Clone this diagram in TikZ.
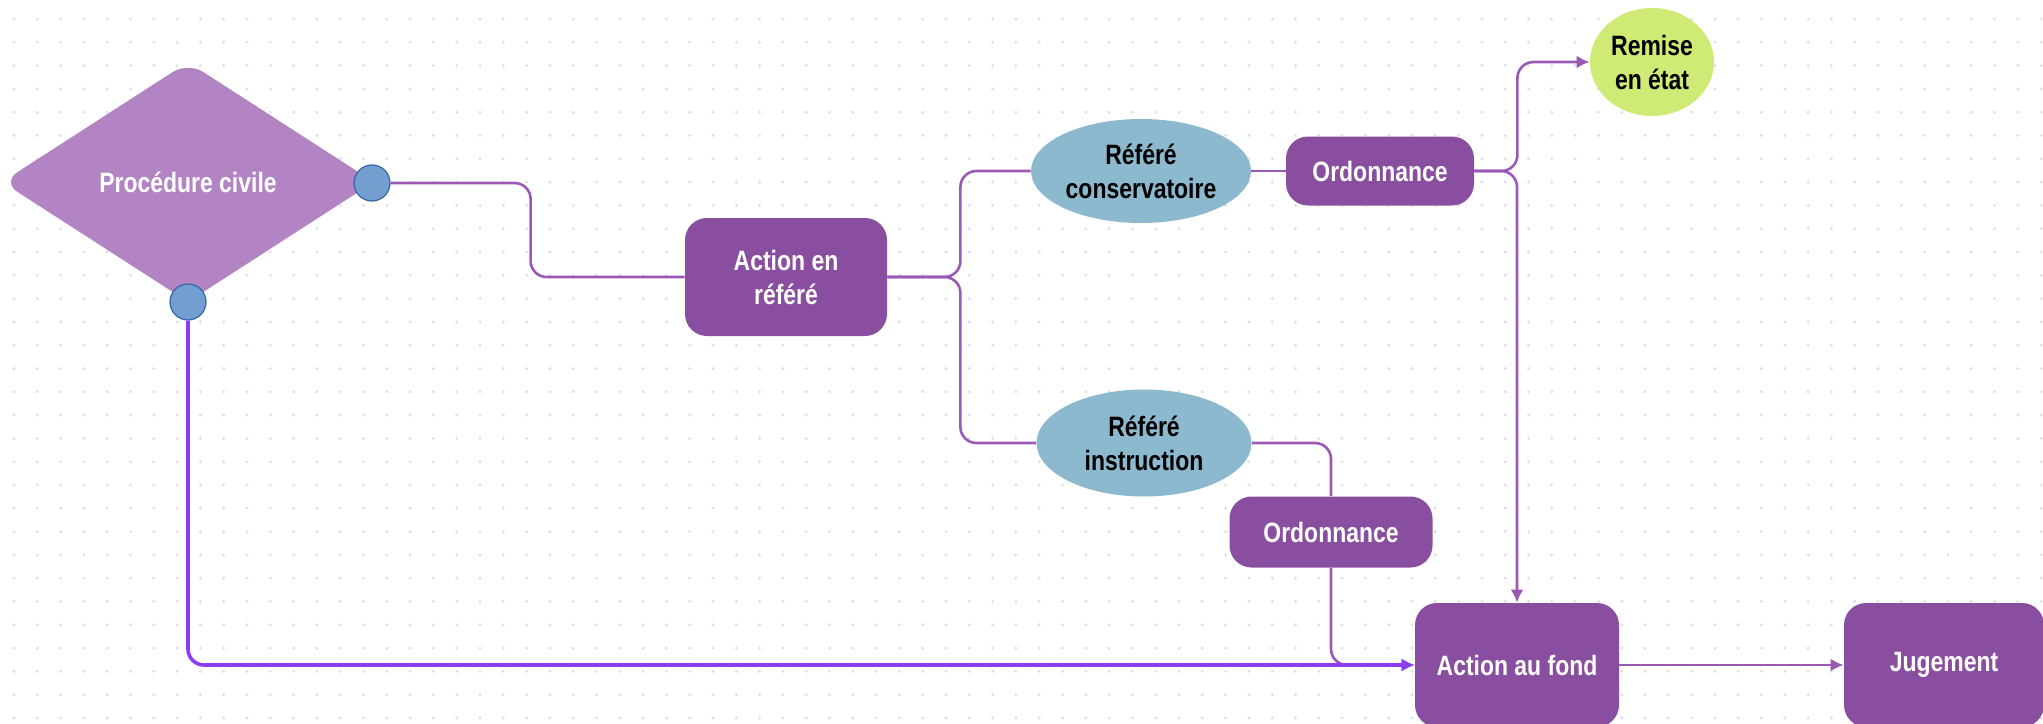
\documentclass[tikz,border=0pt]{standalone}
\usepackage{fontspec}
\setmainfont{Liberation Sans}[FakeStretch=0.82]
\usetikzlibrary{shapes.geometric,arrows.meta}
\definecolor{procfill}{RGB}{178,132,196}
\definecolor{boxfill}{RGB}{138,78,160}
\definecolor{ovalfill}{RGB}{141,185,207}
\definecolor{goalfill}{RGB}{207,235,118}
\definecolor{portfill}{RGB}{114,159,207}
\definecolor{portdraw}{RGB}{52,101,164}
\definecolor{linecol}{RGB}{155,89,182}
\definecolor{violetline}{RGB}{140,60,242}
\definecolor{dotcol}{RGB}{222,222,228}
\begin{document}
\begin{tikzpicture}[x=0.5pt, y=-0.5pt,
    txt/.style={font=\fontsize{14pt}{17pt}\selectfont\bfseries, align=center, inner sep=0pt},
    proc/.style={diamond, fill=procfill, rounded corners=9pt, minimum width=186pt, minimum height=120pt, text=white, txt},
    port/.style={circle, fill=portfill, draw=portdraw, line width=0.6pt, minimum size=18pt, inner sep=0pt},
    stepbox/.style={rectangle, rounded corners=11pt, fill=boxfill, text=white, txt},
    oval/.style={ellipse, fill=ovalfill, text=black, txt},
    goal/.style={ellipse, fill=goalfill, text=black, txt},
    link/.style={draw=linecol, line width=1.3pt, rounded corners=8pt},
    tip/.style={-{Latex[length=6.5pt,width=6.5pt]}}]
        \useasboundingbox (0,0) rectangle (2043,723);
        % Dotted canvas
        \foreach \i in {0,...,87}
            \foreach \j in {0,...,30}
                \fill[dotcol] (14+23.3*\i, 19+23.3*\j) circle (0.8pt);

        % Define nodes
        \node[proc] (proc) at (188, 182) {Procédure civile};
        \node[port] (pr) at (372, 183) {};
        \node[port] (pb) at (188, 302) {};
        \node[stepbox, minimum width=101pt, minimum height=59pt]   (act)     at (786, 277)  {Action en\\référé};
        \node[oval, minimum width=110pt, minimum height=52pt]      (conserv) at (1141, 171) {Référé\\conservatoire};
        \node[stepbox, minimum width=94pt, minimum height=34.5pt]  (ord1)    at (1380, 171) {Ordonnance};
        \node[goal, minimum width=62pt, minimum height=54pt]       (remise)  at (1652, 62)  {Remise\\en état};
        \node[oval, minimum width=107.5pt, minimum height=53.5pt]  (instr)   at (1144, 443) {Référé\\instruction};
        \node[stepbox, minimum width=101.5pt, minimum height=35.5pt] (ord2)  at (1331, 532) {Ordonnance};
        \node[stepbox, minimum width=102pt, minimum height=62pt]   (fond)    at (1517, 665) {Action au fond};
        \node[stepbox, minimum width=100pt, minimum height=62pt]   (jug)     at (1944, 665) {Jugement};

        % Draw edges
        \draw[link] (pr.east) -- ++(140,0) |- (act.west);
        \draw[link] (act.east) -- ++(73,0) |- (conserv.west);
        \draw[link] (act.east) -- ++(73,0) |- (instr.west);
        \draw[link] (conserv) -- (ord1);
        \draw[link, tip] (ord1.east) -- ++(43,0) |- (remise.west);
        \draw[link, tip] (ord1.east) -| (fond.north);
        \draw[link] (instr.east) -| (ord2.north);
        \draw[link, tip] (ord2.south) |- (fond.west);
        \draw[link, draw=violetline, line width=1.8pt, tip] (pb.south) |- (fond.west);
        \draw[link, tip] (fond) -- (jug);
    \end{tikzpicture}
\end{document}
